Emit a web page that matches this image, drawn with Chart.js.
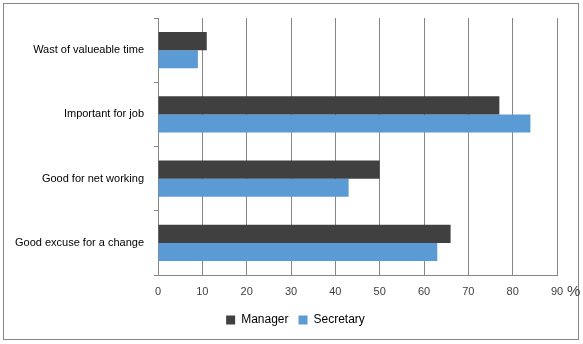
<!DOCTYPE html>
<html><head><meta charset="utf-8">
<script src="https://cdn.jsdelivr.net/npm/chart.js@4/dist/chart.umd.min.js"></script>
<style>html,body{margin:0;padding:0;background:#fff;}#wrap{width:583px;height:344px;position:relative;}</style>
</head><body><div id="wrap"><canvas id="c" width="583" height="344"></canvas></div>
<script>
const categories = ["Wast of valueable time", "Important for job", "Good for net working", "Good excuse for a change"];
const manager = [11, 77, 50, 66];
const secretary = [9, 84, 43, 63];
const xTicks = [0, 10, 20, 30, 40, 50, 60, 70, 80, 90];
const unitLabel = "%";

const FONT = "'Liberation Sans', Arial, sans-serif";
const GRAY = "#868686";

const framePlugin = {
  id: 'frame',
  beforeDraw(chart) {
    const lg = chart.legend;
    if (lg && !lg._shifted) {
      lg.left += 17; lg.right += 17; lg._shifted = true;
    }
  },
  afterDraw(chart) {
    const ctx = chart.ctx;
    ctx.save();
    ctx.strokeStyle = GRAY;
    ctx.lineWidth = 1;
    ctx.strokeRect(3.5, 3.5, 575, 336);
    const xs = chart.scales.x;
    ctx.fillStyle = "#404040";
    ctx.font = "15px " + FONT;
    ctx.textBaseline = "middle";
    ctx.textAlign = "left";
    ctx.fillText(unitLabel, xs.getPixelForValue(90) + 10, 292);
    ctx.restore();
  }
};

new Chart(document.getElementById('c'), {
  type: 'bar',
  data: {
    labels: categories,
    datasets: [
      { label: 'Manager', data: manager, backgroundColor: '#404040', categoryPercentage: 0.5625, barPercentage: 1.0 },
      { label: 'Secretary', data: secretary, backgroundColor: '#5B9BD5', categoryPercentage: 0.5625, barPercentage: 1.0 }
    ]
  },
  options: {
    indexAxis: 'y',
    responsive: false,
    animation: false,
    devicePixelRatio: 1,
    layout: { padding: { left: 0, top: 18, right: 26, bottom: 8 } },
    plugins: {
      legend: {
        position: 'bottom',
        labels: { boxWidth: 9, boxHeight: 9, padding: 10, color: '#000', font: { family: FONT, size: 12 } }
      },
      tooltip: { enabled: false }
    },
    scales: {
      x: {
        min: 0, max: 90,
        afterBuildTicks(s) { s.ticks = xTicks.map(v => ({ value: v })); },
        afterFit(s) { s.height = 29; },
        grid: { color: GRAY, tickLength: 0, drawTicks: false },
        border: { color: GRAY },
        ticks: { color: '#404040', padding: 10, font: { family: FONT, size: 11 } }
      },
      y: {
        afterFit(s) { s.width = 158; },
        grid: { offset: true, drawOnChartArea: false, color: GRAY, tickLength: 4 },
        border: { color: GRAY },
        ticks: { color: '#000', padding: 10, font: { family: FONT, size: 11 } }
      }
    }
  },
  plugins: [framePlugin]
});
</script></body></html>
